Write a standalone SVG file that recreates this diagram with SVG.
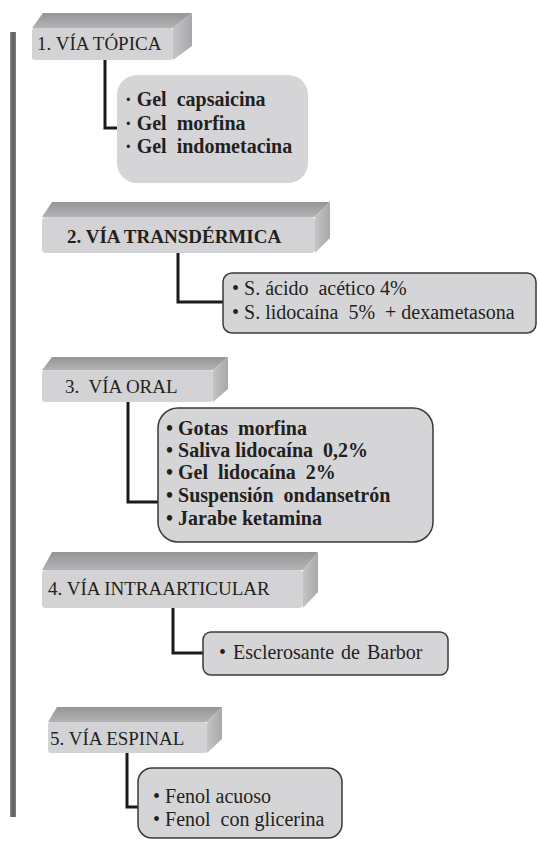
<svg xmlns="http://www.w3.org/2000/svg" width="538" height="846" viewBox="0 0 538 846">
<style>
.t{font-family:"Liberation Serif","Times New Roman",serif;font-size:19px;fill:#231f20}
.it{font-size:20px}
.b{font-weight:bold}
.front{fill:#d3d3d5}
.top{fill:url(#gtop)}
.side{fill:url(#gside)}
.item{fill:#d5d5d7}
.itemb{fill:#d5d5d7;stroke:#3a3a3a;stroke-width:1.5}
.con{fill:none;stroke:#1a1a1a;stroke-width:3;stroke-linejoin:miter}
</style>
<defs>
<linearGradient id="gtop" x1="0" y1="0" x2="0" y2="1"><stop offset="0" stop-color="#959597"/><stop offset="1" stop-color="#b3b3b5"/></linearGradient>
<linearGradient id="gside" x1="0" y1="0" x2="1" y2="0"><stop offset="0" stop-color="#c4c4c6"/><stop offset="1" stop-color="#a8a8aa"/></linearGradient>
<linearGradient id="gbar" x1="0" y1="0" x2="1" y2="0"><stop offset="0" stop-color="#8a8a8c"/><stop offset="0.5" stop-color="#5e5e60"/><stop offset="1" stop-color="#7a7a7c"/></linearGradient>
</defs>
<rect x="10" y="32" width="6" height="785" fill="url(#gbar)"/>
<g id="connectors">
<path class="con" d="M105,60 V128 H117"/>
<path class="con" d="M178,253 V302 H223"/>
<path class="con" d="M128,402 V502 H158"/>
<path class="con" d="M173,608 V653 H203"/>
<path class="con" d="M127,753 V807 H138"/>
</g>
<g id="h1">
<polygon class="top" points="32,28 43,13 192,13 173,28"/>
<polygon class="side" points="173,28 192,13 192,46 173,60"/>
<rect class="front" x="32" y="28" width="141" height="32" rx="3"/>
<text class="t" x="37" y="50">1. VÍA TÓPICA</text>
</g>
<g id="i1">
<rect class="item" x="117" y="75" width="191" height="108" rx="20"/>
<text class="t it b" x="125" y="106" xml:space="preserve">· Gel  capsaicina</text>
<text class="t it b" x="125" y="130" xml:space="preserve">· Gel  morfina</text>
<text class="t it b" x="125" y="153" xml:space="preserve">· Gel  indometacina</text>
</g>
<g id="h2">
<polygon class="top" points="42,217 52,202 330,202 315,217"/>
<polygon class="side" points="315,217 330,202 330,238 315,253"/>
<rect class="front" x="42" y="217" width="273" height="36" rx="4"/>
<text class="t b" x="67" y="243">2. VÍA TRANSDÉRMICA</text>
</g>
<g id="i2">
<rect class="itemb" x="223" y="273" width="313" height="60" rx="9"/>
<text class="t it" x="232" y="295" xml:space="preserve">• S. ácido  acético 4%</text>
<text class="t it" x="232" y="319" xml:space="preserve">• S. lidocaína  5%  + dexametasona</text>
</g>
<g id="h3">
<polygon class="top" points="42,370 52,357 228,357 213,370"/>
<polygon class="side" points="213,370 228,357 228,389 213,402"/>
<rect class="front" x="42" y="370" width="171" height="32" rx="3"/>
<text class="t" x="65" y="393" xml:space="preserve">3.  VÍA ORAL</text>
</g>
<g id="i3">
<rect class="itemb" x="158" y="408" width="275" height="134" rx="20"/>
<text class="t it b" x="166" y="435" xml:space="preserve">• Gotas  morfina</text>
<text class="t it b" x="166" y="457" xml:space="preserve">• Saliva lidocaína  0,2%</text>
<text class="t it b" x="166" y="479" xml:space="preserve">• Gel  lidocaína  2%</text>
<text class="t it b" x="166" y="502" xml:space="preserve">• Suspensión  ondansetrón</text>
<text class="t it b" x="166" y="525" xml:space="preserve">• Jarabe ketamina</text>
</g>
<g id="h4">
<polygon class="top" points="42,570 52,552 318,552 303,570"/>
<polygon class="side" points="303,570 318,552 318,592 303,608"/>
<rect class="front" x="42" y="570" width="261" height="38" rx="4"/>
<text class="t" x="48" y="595">4. VÍA INTRAARTICULAR</text>
</g>
<g id="i4">
<rect class="itemb" x="203" y="632" width="245" height="43" rx="8"/>
<text class="t it" x="219" y="659" word-spacing="2">• Esclerosante de Barbor</text>
</g>
<g id="h5">
<polygon class="top" points="48,722 57,707 222,707 207,722"/>
<polygon class="side" points="207,722 222,707 222,739 207,753"/>
<rect class="front" x="48" y="722" width="159" height="31" rx="3"/>
<text class="t" x="50" y="745">5. VÍA ESPINAL</text>
</g>
<g id="i5">
<rect class="itemb" x="138" y="768" width="204" height="70" rx="14"/>
<text class="t it" x="153" y="803">• Fenol acuoso</text>
<text class="t it" x="153" y="826" xml:space="preserve">• Fenol  con glicerina</text>
</g>
</svg>
